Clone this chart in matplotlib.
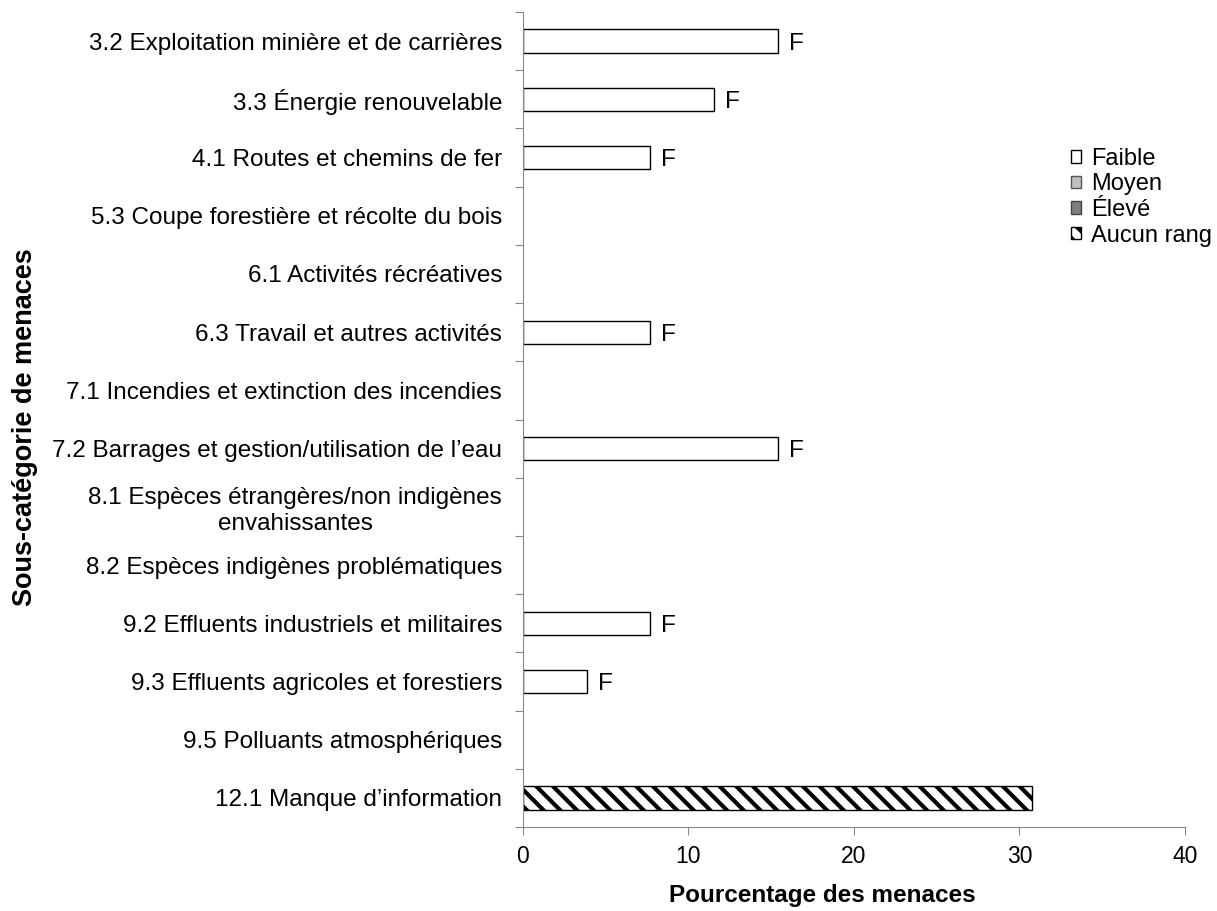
import numpy as np
import matplotlib.pyplot as plt
from matplotlib.patches import Patch

plt.rcParams['font.family'] = ['Liberation Sans', 'DejaVu Sans']
plt.rcParams['hatch.linewidth'] = 3.0

categories = [
    "3.2 Exploitation minière et de carrières",
    "3.3 Énergie renouvelable",
    "4.1 Routes et chemins de fer",
    "5.3 Coupe forestière et récolte du bois",
    "6.1 Activités récréatives",
    "6.3 Travail et autres activités",
    "7.1 Incendies et extinction des incendies",
    "7.2 Barrages et gestion/utilisation de l’eau",
    "8.1 Espèces étrangères/non indigènes\nenvahissantes",
    "8.2 Espèces indigènes problématiques",
    "9.2 Effluents industriels et militaires",
    "9.3 Effluents agricoles et forestiers",
    "9.5 Polluants atmosphériques",
    "12.1 Manque d’information",
]
faible = [15.38, 11.54, 7.69, 0, 0, 7.69, 0, 15.38, 0, 0, 7.69, 3.85, 0, 0]
moyen = [0] * 14
eleve = [0] * 14
aucun_rang = [0, 0, 0, 0, 0, 0, 0, 0, 0, 0, 0, 0, 0, 30.77]
rank_labels = ["F" if v > 0 else "" for v in faible]

FS = 17.5

fig = plt.figure(figsize=(12.17, 9.11), dpi=100)
ax = fig.add_axes([0.4297, 0.0922, 0.544, 0.8946])

y = np.arange(len(categories))
h = 0.4
left = np.zeros(len(categories))
for vals, fc, hatch in [(faible, 'white', None), (moyen, '#c0c0c0', None),
                        (eleve, '#808080', None), (aucun_rang, 'white', '\\\\')]:
    c = ax.barh(y, vals, height=h, left=left, color=fc, edgecolor='black',
                linewidth=1.0, hatch=hatch)
    for p in c.patches:
        if p.get_width() == 0:
            p.set_visible(False)
    left = left + np.array(vals)

# rank letters after the "Faible" bars
for i, (v, lab) in enumerate(zip(faible, rank_labels)):
    if lab:
        ax.annotate(lab, (v, i), xytext=(8, -2), textcoords='offset points',
                    va='center', ha='left', fontsize=FS)

ax.set_xlim(0, 40)
ax.set_xticks([0, 10, 20, 30, 40])
ax.set_ylim(len(categories) - 0.5, -0.5)
ax.set_yticks(np.arange(len(categories) + 1) - 0.5)
ax.set_yticklabels([])
ax.set_yticks(y, minor=True)
ax.set_yticklabels(categories, minor=True, fontsize=FS, multialignment='center')
ax.tick_params(axis='y', which='major', length=6, color='#888888', direction='out')
ax.tick_params(axis='y', which='minor', length=0, pad=15)
ax.tick_params(axis='x', length=6, color='#888888', labelsize=16.5, pad=7)

for s in ['top', 'right']:
    ax.spines[s].set_visible(False)
for s in ['left', 'bottom']:
    ax.spines[s].set_color('#888888')

ax.set_xlabel("Pourcentage des menaces", fontsize=17.5, fontweight='bold')
ax.xaxis.set_label_coords(0.452, -0.070)
ax.set_ylabel("Sous-catégorie de menaces", fontsize=19.5, fontweight='bold')
ax.yaxis.set_label_coords(-0.732, 0.491)

handles = [Patch(facecolor='white', edgecolor='black', label='Faible'),
           Patch(facecolor='#c0c0c0', edgecolor='#555555', label='Moyen'),
           Patch(facecolor='#808080', edgecolor='#444444', label='Élevé'),
           Patch(facecolor='white', edgecolor='black', hatch='\\\\', label='Aucun rang')]
fig.legend(handles=handles, loc='upper left', bbox_to_anchor=(0.872, 0.848),
           frameon=False, fontsize=17, handlelength=0.45, handleheight=0.45,
           handletextpad=0.4, labelspacing=0.15, borderaxespad=0)

fig.savefig('out.png', dpi=100)
